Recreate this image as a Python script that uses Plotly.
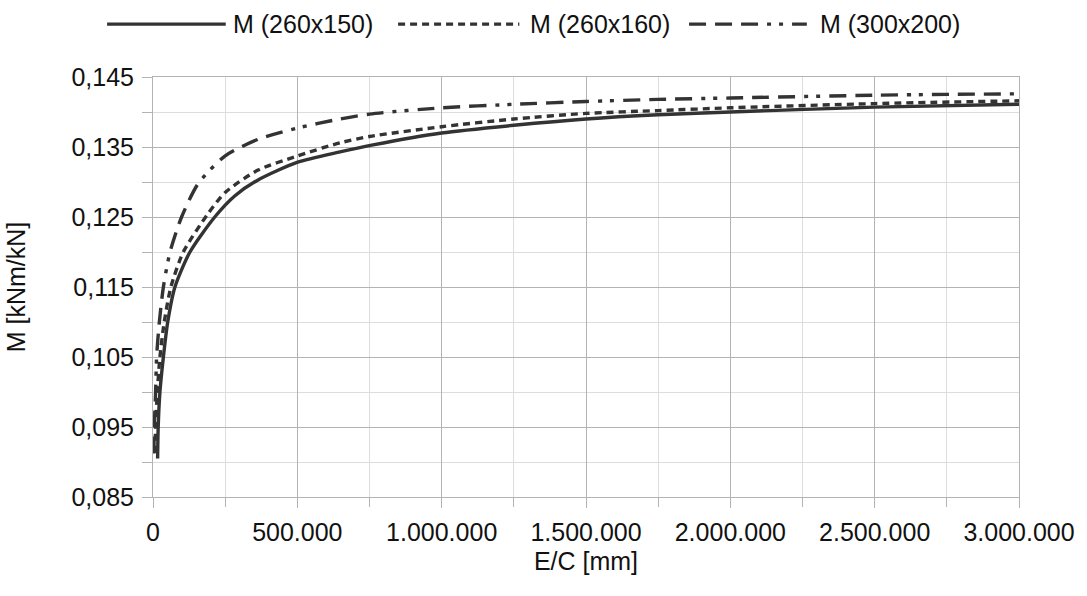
import plotly.graph_objects as go

# ---------------- data ----------------
series_names = ["M (260x150)", "M (260x160)", "M (300x200)"]

ec_260x150 = [16000, 18000, 24000, 36000, 51000, 76000, 128000, 214000, 283000, 364000,
              499000, 648000, 762000, 1000000, 1250000, 1500000, 1750000, 2000000,
              2500000, 3000000]
m_260x150 = [0.0905, 0.0950, 0.1000, 0.1050, 0.1100, 0.1150, 0.1200, 0.1250, 0.1280, 0.1303,
             0.1328, 0.1343, 0.1353, 0.1370, 0.1381, 0.1390, 0.1396, 0.1400,
             0.1407, 0.1411]

ec_260x160 = [7000, 9000, 15000, 24000, 39000, 62000, 105000, 191000, 250000, 364000,
              499000, 648000, 750000, 1000000, 1250000, 1500000, 1750000, 2000000,
              2500000, 3000000]
m_260x160 = [0.0913, 0.0950, 0.1000, 0.1050, 0.1100, 0.1150, 0.1200, 0.1255, 0.1285, 0.1317,
             0.1337, 0.1356, 0.1365, 0.1379, 0.1390, 0.1398, 0.1402, 0.1406,
             0.1412, 0.1416]

ec_300x200 = [3000, 4500, 9000, 12500, 22000, 36000, 59000, 99000, 157000, 249000,
              364000, 499000, 648000, 750000, 1000000, 1250000, 1500000, 1750000,
              2000000, 2500000, 3000000]
m_300x200 = [0.0912, 0.0950, 0.1000, 0.1050, 0.1100, 0.1150, 0.1200, 0.1250, 0.1298, 0.1337,
             0.1361, 0.1377, 0.1390, 0.1397, 0.1406, 0.1411, 0.1415, 0.1418,
             0.1420, 0.1424, 0.1426]

x_tick_vals = [0, 500000, 1000000, 1500000, 2000000, 2500000, 3000000]
x_tick_text = ["0", "500.000", "1.000.000", "1.500.000", "2.000.000", "2.500.000", "3.000.000"]
y_tick_vals = [0.085, 0.095, 0.105, 0.115, 0.125, 0.135, 0.145]
y_tick_text = ["0,085", "0,095", "0,105", "0,115", "0,125", "0,135", "0,145"]

x_title = "E/C [mm]"
y_title = "M [kNm/kN]"

# ---------------- styles ----------------
LINE_COLOR = "#333333"
LINE_W = 3.4
dashes = ["solid", "7px,5px", "17px,9px,17px,9px,17px,9px,4px,8px,4px,9px"]
MAJOR = "#b3b3b3"
MINOR = "#dddddd"
FONT = "Liberation Sans, Arial, sans-serif"
FS = 25

fig = go.Figure()
for name, xs, ys, dash in zip(series_names,
                              [ec_260x150, ec_260x160, ec_300x200],
                              [m_260x150, m_260x160, m_300x200],
                              dashes):
    fig.add_trace(go.Scatter(x=xs, y=ys, mode="lines", name=name, showlegend=False,
                             line=dict(color=LINE_COLOR, width=LINE_W, dash=dash,
                                       shape="spline", smoothing=0.7)))

# custom legend (long line samples, like the reference)
legend_items = [(-0.053, 0.084, 0.090), (0.283, 0.423, 0.433), (0.619, 0.755, 0.768)]
LEG_Y = 1.126
for (x0, x1, xt), name, dash in zip(legend_items, series_names, dashes):
    fig.add_shape(type="line", xref="paper", yref="paper", x0=x0, x1=x1, y0=LEG_Y, y1=LEG_Y,
                  line=dict(color=LINE_COLOR, width=LINE_W, dash=dash))
    fig.add_annotation(xref="paper", yref="paper", x=xt, y=LEG_Y, text=name, showarrow=False,
                       xanchor="left", yanchor="middle", font=dict(size=FS, color="#111"))

fig.update_layout(
    width=1087, height=596,
    margin=dict(l=153, r=66, t=77, b=99),
    plot_bgcolor="white", paper_bgcolor="white",
    font=dict(family=FONT, size=FS, color="#111"),
    showlegend=False,
)
fig.update_xaxes(
    range=[0, 3000000], tickmode="array", tickvals=x_tick_vals, ticktext=x_tick_text,
    showgrid=True, gridcolor=MAJOR, gridwidth=1, zeroline=False,
    showline=True, linecolor=MAJOR, linewidth=1, mirror=True,
    ticks="outside", ticklen=10, tickcolor=MAJOR, ticklabelstandoff=3,
    minor=dict(dtick=250000, tick0=0, showgrid=True, gridcolor=MINOR, gridwidth=1,
               ticks="outside", ticklen=9, tickcolor=MAJOR),
    title=dict(text=x_title, standoff=7, font=dict(size=FS)),
)
fig.update_yaxes(
    range=[0.085, 0.145], tickmode="array", tickvals=y_tick_vals, ticktext=y_tick_text,
    showgrid=True, gridcolor=MAJOR, gridwidth=1, zeroline=False,
    showline=True, linecolor=MAJOR, linewidth=1, mirror=True,
    ticks="outside", ticklen=10, tickcolor=MAJOR, ticklabelstandoff=3,
    minor=dict(dtick=0.005, tick0=0.085, showgrid=True, gridcolor=MINOR, gridwidth=1,
               ticks="outside", ticklen=10, tickcolor=MAJOR),
    title=dict(text=y_title, standoff=38, font=dict(size=FS)),
)

fig.write_html("out.html", config={"displayModeBar": False},
               post_script="document.body.style.margin='0';")
